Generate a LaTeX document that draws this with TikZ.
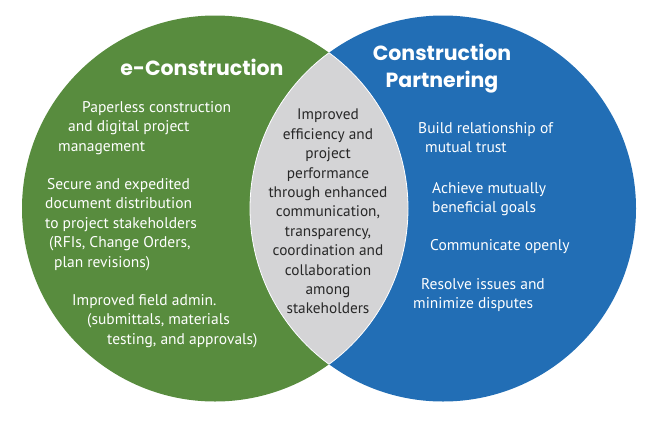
\documentclass[tikz,border=0pt]{standalone}
\usepackage{fontspec}
\setmainfont{PT Sans}
\newfontfamily\headfont{Poppins}
\usepackage{xcolor}
\usepackage{tikz}
\usetikzlibrary{positioning}
\definecolor{ecgreen}{RGB}{88,140,62}
\definecolor{cpblue}{RGB}{34,110,181}
\definecolor{lensgray}{RGB}{212,212,214}
\definecolor{lenstext}{RGB}{40,40,40}
\tikzset{
  head/.style={text=white,align=center,inner sep=0pt,font=\headfont\bfseries\fontsize{20.5}{27}\selectfont},
  item/.style={text=white,align=left,anchor=north west,inner sep=0pt,font=\fontsize{15.5}{19.5}\selectfont},
  shared/.style={text=lenstext,align=center,anchor=north,inner sep=0pt,font=\fontsize{15.3}{19.4}\selectfont},
}

\begin{document}
\begin{tikzpicture}[x=1pt,y=-1pt]
  \useasboundingbox (0,0) rectangle (658,421);
  % the two sets
  \coordinate (gc) at (215,208.5);
  \coordinate (bc) at (443,208.5);
  \fill[ecgreen] (gc) circle (193);
  \fill[cpblue] (bc) circle (193);
  % overlap
  \begin{scope}
    \clip (gc) circle (193);
    \fill[lensgray] (bc) circle (193);
    \draw[white,line width=0.8pt] (bc) circle (193);
  \end{scope}
  \begin{scope}
    \clip (bc) circle (193);
    \draw[white,line width=0.8pt] (gc) circle (193);
  \end{scope}

  % titles
  \node[head] (econ) at (202,67) {e-Construction};
  \node[head] (cpart) at (442,69) {Construction\\Partnering};

  % left circle
  \node[item] (e1) at (58,101) {\hspace*{24pt}Paperless construction\\\hspace*{10pt}and digital project\\management};
  \node[item] (e2) at (45,178) {\hspace*{2pt}Secure and expedited\\document distribution\\to project stakeholders\\\hspace*{4pt}(RFIs, Change Orders,\\\hspace*{9pt}plan revisions)};
  \node[item] (e3) at (72,294) {Improved field admin.\\\hspace*{15pt}(submittals, materials\\\hspace*{35pt}testing, and approvals)};

  % right circle
  \node[item] (p1) at (418,122) {Build relationship of\\\hspace*{7pt}mutual trust};
  \node[item] (p2) at (432,182) {Achieve mutually\\beneficial goals};
  \node[item] (p3) at (430,239) {Communicate openly};
  \node[item] (p4) at (413,278) {\hspace*{8pt}Resolve issues and\\minimize disputes};

  % overlap text
  \node[shared] (both) at (328,109) {Improved\\efficiency and\\project\\performance\\through enhanced\\communication,\\transparency,\\coordination and\\collaboration\\among\\stakeholders};
\end{tikzpicture}
\end{document}
